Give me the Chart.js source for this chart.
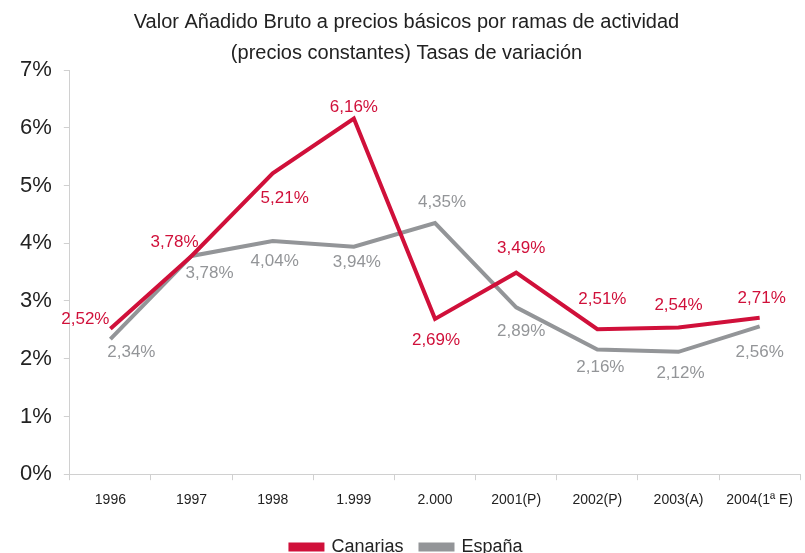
<!DOCTYPE html>
<html>
<head>
<meta charset="utf-8">
<script src="https://cdn.jsdelivr.net/npm/chart.js@4"></script>
<style>
    html, body { margin: 0; padding: 0; background: #fff; }
    #wrap { width: 805px; height: 553px; }
</style>
</head>
<body>
<div id="wrap"><canvas id="vabChart"></canvas></div>
<script>
    // datos
    const years = ['1996', '1997', '1998', '1.999', '2.000', '2001(P)', '2002(P)', '2003(A)', '2004(1ª E)'];
    const canarias = [2.52, 3.78, 5.21, 6.16, 2.69, 3.49, 2.51, 2.54, 2.71];
    const espana = [2.34, 3.78, 4.04, 3.94, 4.35, 2.89, 2.16, 2.12, 2.56];
    const yTicks = [0, 1, 2, 3, 4, 5, 6, 7];

    const red = '#D0103A';
    const grey = '#939598';

    // posicion de las etiquetas (dx, dy respecto al punto)
    const canariasOffsets = [[-25, -9], [-17, -14], [12, 25], [0, -11], [1, 21], [5, -24], [5, -30], [0, -22], [2, -19]];
    const espanaOffsets = [[21, 13], [18, 17], [2, 20], [3, 16], [7, -21], [5, 24], [3, 18], [2, 22], [0, 26]];

    const fmt = v => v.toFixed(2).replace('.', ',') + '%';

    const pointLabels = {
        id: 'pointLabels',
        afterDatasetsDraw(chart) {
            const ctx = chart.ctx;
            ctx.save();
            ctx.font = '17px "Liberation Sans", Arial, sans-serif';
            ctx.textAlign = 'center';
            ctx.textBaseline = 'middle';
            chart.data.datasets.forEach((ds, i) => {
                const meta = chart.getDatasetMeta(i);
                ctx.fillStyle = ds.borderColor;
                meta.data.forEach((pt, j) => {
                    const off = ds.labelOffsets[j];
                    ctx.fillText(fmt(ds.data[j]), pt.x + off[0], pt.y + off[1]);
                });
            });
            ctx.restore();
        }
    };

    new Chart(document.getElementById('vabChart'), {
        type: 'line',
        data: {
            labels: years,
            datasets: [
                {
                    label: 'Canarias',
                    data: canarias,
                    borderColor: red,
                    backgroundColor: red,
                    borderWidth: 4,
                    pointRadius: 0,
                    tension: 0,
                    labelOffsets: canariasOffsets
                },
                {
                    label: 'España',
                    data: espana,
                    borderColor: grey,
                    backgroundColor: grey,
                    borderWidth: 4,
                    pointRadius: 0,
                    tension: 0,
                    labelOffsets: espanaOffsets
                }
            ]
        },
        options: {
            responsive: true,
            maintainAspectRatio: false,
            animation: false,
            layout: { padding: { left: 8, right: 0, top: 4, bottom: -13 } },
            plugins: {
                title: {
                    display: true,
                    text: ['Valor Añadido Bruto a precios básicos por ramas de actividad', '(precios constantes) Tasas de variación'],
                    color: '#222',
                    font: { family: '"Liberation Sans", Arial, sans-serif', size: 20, weight: 'normal', lineHeight: 1.55 },
                    padding: { top: 3, bottom: 1 }
                },
                legend: {
                    position: 'bottom',
                    labels: {
                        color: '#222',
                        boxWidth: 32,
                        boxHeight: 5,
                        padding: 17,
                        font: { family: '"Liberation Sans", Arial, sans-serif', size: 18 }
                    }
                },
                tooltip: { enabled: false }
            },
            scales: {
                x: {
                    offset: true,
                    grid: { display: true, drawOnChartArea: false, offset: true, tickLength: 6, color: '#d0d0d0' },
                    border: { color: '#d0d0d0' },
                    ticks: {
                        color: '#222',
                        maxRotation: 0,
                        autoSkip: false,
                        padding: 12,
                        font: { family: '"Liberation Sans", Arial, sans-serif', size: 14 }
                    }
                },
                y: {
                    min: yTicks[0],
                    max: yTicks[yTicks.length - 1],
                    afterBuildTicks: axis => { axis.ticks = yTicks.map(v => ({ value: v })); },
                    grid: { display: true, drawOnChartArea: false, tickLength: 6, color: '#d0d0d0' },
                    border: { color: '#d0d0d0' },
                    ticks: {
                        color: '#222',
                        padding: 12,
                        callback: v => v + '%',
                        font: { family: '"Liberation Sans", Arial, sans-serif', size: 22 }
                    }
                }
            }
        },
        plugins: [pointLabels]
    });
</script>
</body>
</html>
